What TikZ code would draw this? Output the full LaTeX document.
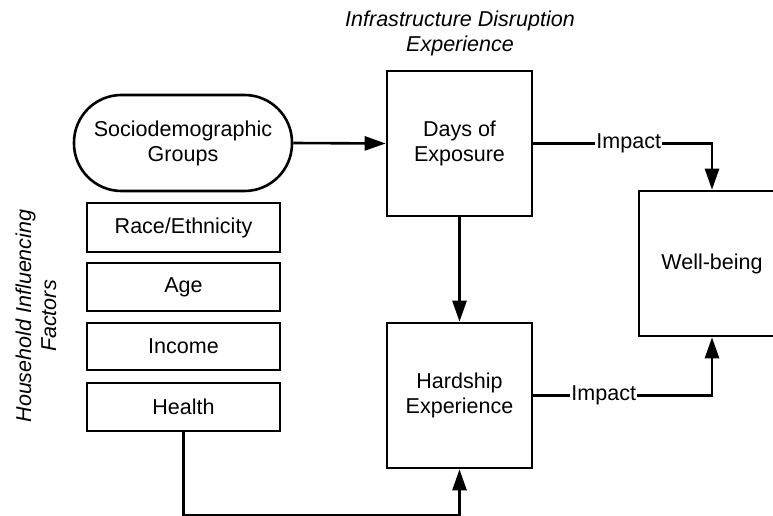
\documentclass[tikz,border=0pt]{standalone}
\usepackage{fontspec}
\setmainfont{Liberation Sans}
\usetikzlibrary{arrows.meta}
\begin{document}
\begin{tikzpicture}[x=1bp,y=-1bp,
  box/.style={draw, line width=2.6bp, align=center, inner sep=0pt},
  arr/.style={line width=2.6bp, -{Triangle[length=21bp,width=14bp]}},
  lbl/.style={fill=white, inner sep=1bp},
  txt/.style={font=\fontsize{21.6}{25}\selectfont},
  itxt/.style={font=\fontsize{21.6}{25}\selectfont\itshape, align=center},
  every node/.style={txt}]
\useasboundingbox (0,0) rectangle (773,516);
\node[box, minimum width=218bp, minimum height=96bp, rounded corners=47.5bp] (socio) at (183,143) {Sociodemographic\\Groups};
\node[box, minimum width=193bp, minimum height=49bp] (race) at (183.5,227.5) {Race/Ethnicity};
\node[box, minimum width=193bp, minimum height=48bp] (age) at (183.5,287) {Age};
\node[box, minimum width=193bp, minimum height=47bp] (income) at (183.5,346.5) {Income};
\node[box, minimum width=193bp, minimum height=48bp] (health) at (183.5,407) {Health};
\node[box, minimum width=145bp, minimum height=145bp] (days) at (459.5,143.5) {Days of\\Exposure};
\node[box, minimum width=145bp, minimum height=145bp] (hard) at (459.5,395.5) {Hardship\\Experience};
\node[box, minimum width=146bp, minimum height=145bp] (well) at (712,263.5) {Well-being};
\node[itxt] (title) at (460,33) {Infrastructure Disruption\\Experience};
\node[itxt, rotate=90] (hif) at (36,316) {Household Influencing\\Factors};
\coordinate (bend) at (183.5,515);
\draw[arr] (socio.east) -- (days.west);
\draw[arr] (days.east) -| node[lbl, pos=0.267] (imp1) {Impact} (well.north);
\draw[arr] (days.south) -- (hard.north);
\draw[arr] (hard.east) -| node[lbl, pos=0.197] (imp2) {Impact} (well.south);
\draw[arr] (health.south) -- (bend) -| (hard.south);
\end{tikzpicture}
\end{document}
